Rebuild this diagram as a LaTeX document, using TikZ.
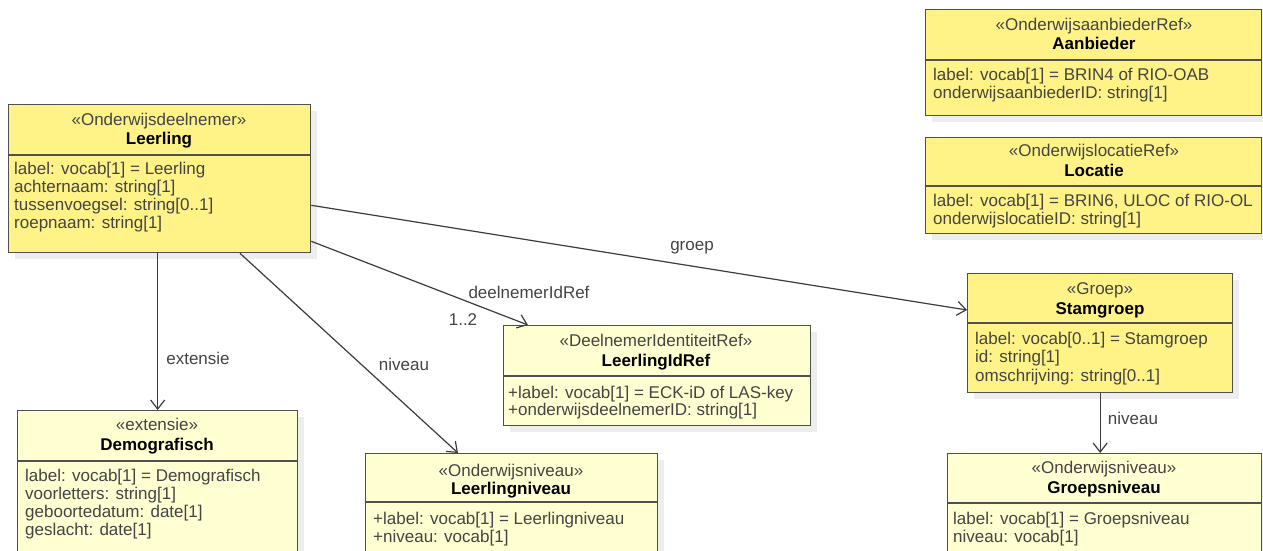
\documentclass[tikz,border=0pt]{standalone}
\usepackage{fontspec}
\setmainfont{Liberation Sans}
\usetikzlibrary{arrows.meta,shadows}
\definecolor{darkfill}{RGB}{255,243,135}
\definecolor{palefill}{RGB}{255,255,210}
\definecolor{boxline}{RGB}{80,80,80}
\definecolor{txtcol}{RGB}{68,68,68}
\definecolor{edgecol}{RGB}{60,60,60}
\tikzset{
  cls/.style={draw=boxline, line width=1.3pt, rectangle, inner sep=0pt, anchor=north west,
    drop shadow={shadow xshift=6pt, shadow yshift=-6pt, fill=black, opacity=0.07}},
  stereo/.style={anchor=base, inner sep=0pt, text=txtcol, font=\fontsize{17}{18}\selectfont},
  ctitle/.style={anchor=base, inner sep=0pt, text=black, font=\fontsize{17}{18}\selectfont\bfseries},
  attr/.style={anchor=base west, inner sep=0pt, text=txtcol, font=\fontsize{17}{18}\selectfont},
  sepline/.style={draw=boxline, line width=1.2pt},
  assoc/.style={draw=edgecol, line width=1.2pt, -{Straight Barb[length=9pt, width=14pt, line width=1.2pt]}},
  elabel/.style={inner sep=0pt, text=txtcol, font=\fontsize{17}{18}\selectfont}
}
\begin{document}
\begin{tikzpicture}[x=1pt, y=-1pt]
\useasboundingbox (0,0) rectangle (1263,550);
\clip (0,0) rectangle (1263,550);
\fill[white] (0,0) rectangle (1263,550);

% Leerling
\node[cls, fill=darkfill, minimum width=302pt, minimum height=148pt] (leer) at (8,104) {};
\draw[sepline] (8,155) -- (310,155);
\node[stereo] (leerS) at (159,125) {«Onderwijsdeelnemer»};
\node[ctitle] (leerT) at (159,144) {Leerling};
\node[attr] (leerA1) at (14,174) {label: vocab[1] = Leerling};
\node[attr] (leerA2) at (14,192) {achternaam: string[1]};
\node[attr] (leerA3) at (14,210) {tussenvoegsel: string[0..1]};
\node[attr] (leerA4) at (14,228) {roepnaam: string[1]};

% Aanbieder
\node[cls, fill=darkfill, minimum width=336pt, minimum height=106pt] (aanb) at (925,9) {};
\draw[sepline] (925,60) -- (1261,60);
\node[stereo] (aanbS) at (1094,30) {«OnderwijsaanbiederRef»};
\node[ctitle] (aanbT) at (1094,49) {Aanbieder};
\node[attr] (aanbA1) at (933,80) {label: vocab[1] = BRIN4 of RIO-OAB};
\node[attr] (aanbA2) at (933,98) {onderwijsaanbiederID: string[1]};

% Locatie
\node[cls, fill=darkfill, minimum width=336pt, minimum height=96pt] (loc) at (925,137) {};
\draw[sepline] (925,186) -- (1261,186);
\node[stereo] (locS) at (1094,156) {«OnderwijslocatieRef»};
\node[ctitle] (locT) at (1094,176) {Locatie};
\node[attr] (locA1) at (933,206) {label: vocab[1] = BRIN6, ULOC of RIO-OL};
\node[attr] (locA2) at (933,224) {onderwijslocatieID: string[1]};

% Stamgroep
\node[cls, fill=darkfill, minimum width=265pt, minimum height=119pt] (stam) at (967,273) {};
\draw[sepline] (967,323) -- (1232,323);
\node[stereo] (stamS) at (1100,294) {«Groep»};
\node[ctitle] (stamT) at (1100,314) {Stamgroep};
\node[attr] (stamA1) at (975,344) {label: vocab[0..1] = Stamgroep};
\node[attr] (stamA2) at (975,362) {id: string[1]};
\node[attr] (stamA3) at (975,381) {omschrijving: string[0..1]};

% Groepsniveau
\node[cls, fill=palefill, minimum width=314pt, minimum height=130pt] (gniv) at (947,453) {};
\draw[sepline] (947,503) -- (1261,503);
\node[stereo] (gnivS) at (1104,473) {«Onderwijsniveau»};
\node[ctitle] (gnivT) at (1104,493) {Groepsniveau};
\node[attr] (gnivA1) at (953,524) {label: vocab[1] = Groepsniveau};
\node[attr] (gnivA2) at (953,542) {niveau: vocab[1]};

% Demografisch
\node[cls, fill=palefill, minimum width=280pt, minimum height=170pt] (demo) at (17,410) {};
\draw[sepline] (17,461) -- (297,461);
\node[stereo] (demoS) at (157,430) {«extensie»};
\node[ctitle] (demoT) at (157,450) {Demografisch};
\node[attr] (demoA1) at (25,481) {label: vocab[1] = Demografisch};
\node[attr] (demoA2) at (25,499) {voorletters: string[1]};
\node[attr] (demoA3) at (25,517) {geboortedatum: date[1]};
\node[attr] (demoA4) at (25,535) {geslacht: date[1]};

% Leerlingniveau
\node[cls, fill=palefill, minimum width=292pt, minimum height=130pt] (lniv) at (365,453) {};
\draw[sepline] (365,502) -- (657,502);
\node[stereo] (lnivS) at (511,476) {«Onderwijsniveau»};
\node[ctitle] (lnivT) at (511,494) {Leerlingniveau};
\node[attr] (lnivA1) at (373,524) {+label: vocab[1] = Leerlingniveau};
\node[attr] (lnivA2) at (373,542) {+niveau: vocab[1]};

% LeerlingIdRef
\node[cls, fill=palefill, minimum width=307pt, minimum height=100pt] (idref) at (503,325) {};
\draw[sepline] (503,376) -- (810,376);
\node[stereo] (idrefS) at (656,346) {«DeelnemerIdentiteitRef»};
\node[ctitle] (idrefT) at (656,366) {LeerlingIdRef};
\node[attr] (idrefA1) at (508,398) {+label: vocab[1] = ECK-iD of LAS-key};
\node[attr] (idrefA2) at (508,415) {+onderwijsdeelnemerID: string[1]};

% connectors
\draw[assoc] (demo.north |- leer.south) -- (demo.north);
\draw[assoc] ([xshift=232pt]leer.south west) -- ([xshift=93pt]lniv.north west);
\draw[assoc] ([yshift=12pt]leer.south east) -- ([xshift=25pt]idref.north west);
\draw[assoc] ([yshift=48pt]leer.south east) -- ([yshift=-37pt]stam.north west);
\draw[assoc] (stam.south) -- (stam.south |- gniv.north);

% connector labels
\node[elabel] (l1) at (198,358) {extensie};
\node[elabel] (l2) at (404,364) {niveau};
\node[elabel] (l3) at (529,292) {deelnemerIdRef};
\node[elabel] (l4) at (463,320) {1..2};
\node[elabel] (l5) at (692,248) {groep};
\node[elabel] (l6) at (1133,418) {niveau};
\end{tikzpicture}
\end{document}
